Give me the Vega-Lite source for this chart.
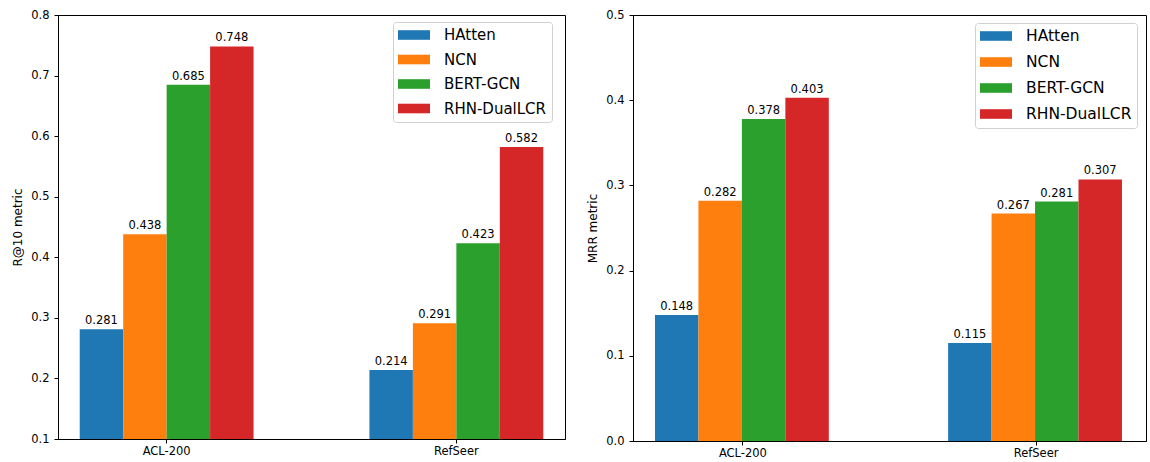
{
  "$schema": "https://vega.github.io/schema/vega-lite/v6.json",
  "background": "white",
  "padding": {"left": 11, "top": 8, "right": 0, "bottom": 0},
  "spacing": 20,
  "config": {
    "font": "DejaVu Sans",
    "view": {"stroke": "black", "strokeWidth": 1},
    "axis": {"grid": false, "domainColor": "black", "tickColor": "black", "tickSize": 4, "labelColor": "black", "labelFontSize": 11.5, "labelFont": "DejaVu Sans", "titleFont": "DejaVu Sans", "titleFontWeight": "normal", "titleFontSize": 12, "titleColor": "black", "labelPadding": 5},
    "legend": {"labelFont": "DejaVu Sans", "labelColor": "black"}
  },
  "resolve": {"scale": {"color": "independent", "y": "independent"}, "legend": {"color": "independent"}},
  "hconcat": [
    {
      "width": 507,
      "height": 424,
      "data": {"values": [
        {"dataset": "ACL-200", "model": "HAtten", "value": 0.281},
        {"dataset": "ACL-200", "model": "NCN", "value": 0.438},
        {"dataset": "ACL-200", "model": "BERT-GCN", "value": 0.685},
        {"dataset": "ACL-200", "model": "RHN-DualLCR", "value": 0.748},
        {"dataset": "RefSeer", "model": "HAtten", "value": 0.214},
        {"dataset": "RefSeer", "model": "NCN", "value": 0.291},
        {"dataset": "RefSeer", "model": "BERT-GCN", "value": 0.423},
        {"dataset": "RefSeer", "model": "RHN-DualLCR", "value": 0.582}
      ]},
      "encoding": {
        "x": {"field": "dataset", "type": "nominal", "title": null, "scale": {"paddingInner": 0.4, "paddingOuter": 0.075}, "axis": {"labelAngle": 0, "labelPadding": 2}},
        "xOffset": {"field": "model", "type": "nominal", "sort": ["HAtten", "NCN", "BERT-GCN", "RHN-DualLCR"]},
        "y": {"field": "value", "type": "quantitative", "title": "R@10 metric", "scale": {"domain": [0.1, 0.8], "zero": false, "nice": false}, "axis": {"values": [0.1, 0.2, 0.3, 0.4, 0.5, 0.6, 0.7, 0.8], "format": ".1f", "titlePadding": 6}}
      },
      "layer": [
        {
          "mark": {"type": "bar", "clip": true},
          "encoding": {
            "color": {"field": "model", "type": "nominal", "sort": ["HAtten", "NCN", "BERT-GCN", "RHN-DualLCR"],
              "scale": {"domain": ["HAtten", "NCN", "BERT-GCN", "RHN-DualLCR"], "range": ["#1f77b4", "#ff7f0e", "#2ca02c", "#d62728"]},
              "legend": {"title": null, "orient": "none", "legendX": 335, "legendY": 7, "labelFontSize": 15, "symbolType": "M-1,-0.6H3V0.6H-1Z", "symbolSize": 256, "symbolStrokeWidth": 0, "symbolOpacity": 1, "labelOffset": 30, "rowPadding": 8.5, "padding": 5, "strokeColor": "#d0d0d0", "cornerRadius": 3, "fillColor": "white"}}
          }
        },
        {
          "mark": {"type": "text", "baseline": "alphabetic", "dy": -5, "fontSize": 11.5, "color": "black"},
          "encoding": {"text": {"field": "value", "type": "quantitative", "format": ".3f"}}
        }
      ]
    },
    {
      "width": 513,
      "height": 426,
      "data": {"values": [
        {"dataset": "ACL-200", "model": "HAtten", "value": 0.148},
        {"dataset": "ACL-200", "model": "NCN", "value": 0.282},
        {"dataset": "ACL-200", "model": "BERT-GCN", "value": 0.378},
        {"dataset": "ACL-200", "model": "RHN-DualLCR", "value": 0.403},
        {"dataset": "RefSeer", "model": "HAtten", "value": 0.115},
        {"dataset": "RefSeer", "model": "NCN", "value": 0.267},
        {"dataset": "RefSeer", "model": "BERT-GCN", "value": 0.281},
        {"dataset": "RefSeer", "model": "RHN-DualLCR", "value": 0.307}
      ]},
      "encoding": {
        "x": {"field": "dataset", "type": "nominal", "title": null, "scale": {"paddingInner": 0.4, "paddingOuter": 0.075}, "axis": {"labelAngle": 0, "labelPadding": 2}},
        "xOffset": {"field": "model", "type": "nominal", "sort": ["HAtten", "NCN", "BERT-GCN", "RHN-DualLCR"]},
        "y": {"field": "value", "type": "quantitative", "title": "MRR metric", "scale": {"domain": [0, 0.5], "nice": false}, "axis": {"values": [0, 0.1, 0.2, 0.3, 0.4, 0.5], "format": ".1f", "titlePadding": 6}}
      },
      "layer": [
        {
          "mark": {"type": "bar", "clip": true},
          "encoding": {
            "color": {"field": "model", "type": "nominal", "sort": ["HAtten", "NCN", "BERT-GCN", "RHN-DualLCR"],
              "scale": {"domain": ["HAtten", "NCN", "BERT-GCN", "RHN-DualLCR"], "range": ["#1f77b4", "#ff7f0e", "#2ca02c", "#d62728"]},
              "legend": {"title": null, "orient": "none", "legendX": 342, "legendY": 8, "labelFontSize": 15.5, "symbolType": "M-1,-0.6H3V0.6H-1Z", "symbolSize": 256, "symbolStrokeWidth": 0, "symbolOpacity": 1, "labelOffset": 30, "rowPadding": 9, "padding": 5, "strokeColor": "#d0d0d0", "cornerRadius": 3, "fillColor": "white"}}
          }
        },
        {
          "mark": {"type": "text", "baseline": "alphabetic", "dy": -5, "fontSize": 11.5, "color": "black"},
          "encoding": {"text": {"field": "value", "type": "quantitative", "format": ".3f"}}
        }
      ]
    }
  ]
}
